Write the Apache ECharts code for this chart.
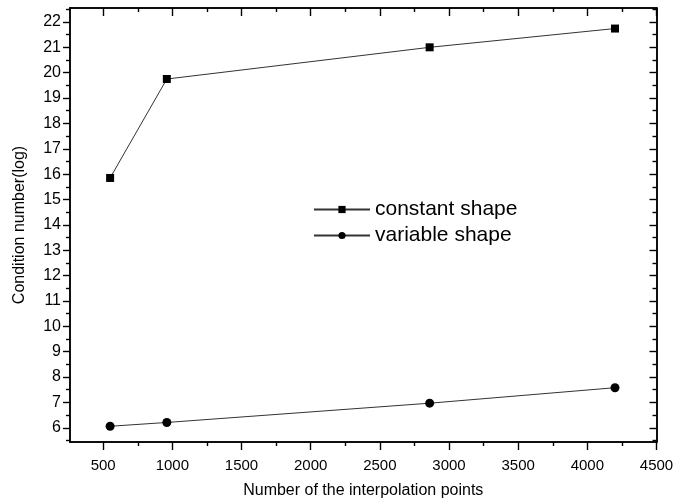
<!DOCTYPE html>
<html>
<head>
<meta charset="utf-8">
<script src="https://cdn.jsdelivr.net/npm/echarts@6/dist/echarts.min.js"></script>
<style>html,body{margin:0;padding:0;background:#fff}#c{width:692px;height:504px}</style>
</head>
<body>
<div id="c"></div>
<script>
const constantX = [550, 960, 2860, 4200];
const constantY = [15.85, 19.75, 21.0, 21.74];
const variableX = [550, 960, 2860, 4200];
const variableY = [6.06, 6.21, 6.97, 7.58];
const seriesNames = ['constant shape', 'variable shape'];
const xMajor = [500, 1000, 1500, 2000, 2500, 3000, 3500, 4000, 4500];
const xMinor = [750, 1250, 1750, 2250, 2750, 3250, 3750, 4250];
const yMajor = [6, 7, 8, 9, 10, 11, 12, 13, 14, 15, 16, 17, 18, 19, 20, 21, 22];
const yMinor = [5.5, 6.5, 7.5, 8.5, 9.5, 10.5, 11.5, 12.5, 13.5, 14.5, 15.5, 16.5, 17.5, 18.5, 19.5, 20.5, 21.5, 22.5];

const FONT = 'Liberation Sans, Arial, sans-serif';
const X_MIN = 260, X_MAX = 4500, Y_MIN = 5.44, Y_MAX = 22.55;
const lineStyle = { color: '#000', width: 1.5 };

function xAx(pos, ticks, len, inside, labels) {
  return {
    type: 'value', position: pos, min: X_MIN, max: X_MAX,
    axisLine: { show: true, onZero: false, lineStyle },
    axisTick: { show: true, inside, length: len, customValues: ticks, lineStyle: { color: '#000', width: 1.4 } },
    axisLabel: labels ? { show: true, customValues: xMajor, margin: 16, fontSize: 15, color: '#000', fontFamily: FONT, formatter: v => String(v) } : { show: false },
    splitLine: { show: false }
  };
}
function yAx(pos, ticks, len, inside, labels) {
  return {
    type: 'value', position: pos, min: Y_MIN, max: Y_MAX,
    axisLine: { show: true, onZero: false, lineStyle },
    axisTick: { show: true, inside, length: len, customValues: ticks, lineStyle: { color: '#000', width: 1.4 } },
    axisLabel: labels ? { show: true, customValues: yMajor, margin: 9, fontSize: 16, color: '#000', fontFamily: FONT, formatter: v => String(v) } : { show: false },
    splitLine: { show: false }
  };
}

const xAxes = [
  xAx('bottom', xMajor, 8, false, true),
  xAx('bottom', xMinor, 4, false, false),
  xAx('top', xMajor, 8, true, false),
  xAx('top', xMinor, 4, true, false)
];
Object.assign(xAxes[0], {
  name: 'Number of the interpolation points', nameLocation: 'middle', nameGap: 41,
  nameTextStyle: { fontSize: 16, color: '#000', fontFamily: FONT }
});
const yAxes = [
  yAx('left', yMajor, 7, false, true),
  yAx('left', yMinor, 4, false, false),
  yAx('right', yMajor, 7, true, false),
  yAx('right', yMinor, 4, true, false)
];
Object.assign(yAxes[0], {
  name: 'Condition number(log)', nameLocation: 'middle', nameGap: 42,
  nameTextStyle: { fontSize: 16, color: '#000', fontFamily: FONT }
});

const chart = echarts.init(document.getElementById('c'), null, { renderer: 'canvas' });
chart.setOption({
  animation: false,
  backgroundColor: '#fff',
  grid: { left: 70, right: 35.5, top: 8, bottom: 59, containLabel: false },
  xAxis: xAxes,
  yAxis: yAxes,
  legend: {
    orient: 'vertical', left: 308, top: 194, padding: 5, itemWidth: 56, itemHeight: 9, itemGap: 5,
    textStyle: { fontSize: 21, color: '#000', fontFamily: FONT },
    data: seriesNames
  },
  series: [
    {
      name: seriesNames[0], type: 'line', xAxisIndex: 0, yAxisIndex: 0,
      data: constantX.map((x, i) => [x, constantY[i]]),
      symbol: 'rect', symbolSize: 8,
      lineStyle: { color: '#333', width: 1 },
      itemStyle: { color: '#000' }
    },
    {
      name: seriesNames[1], type: 'line', xAxisIndex: 0, yAxisIndex: 0,
      data: variableX.map((x, i) => [x, variableY[i]]),
      symbol: 'circle', symbolSize: 9,
      lineStyle: { color: '#333', width: 1 },
      itemStyle: { color: '#000' }
    }
  ]
});
</script>
</body>
</html>
